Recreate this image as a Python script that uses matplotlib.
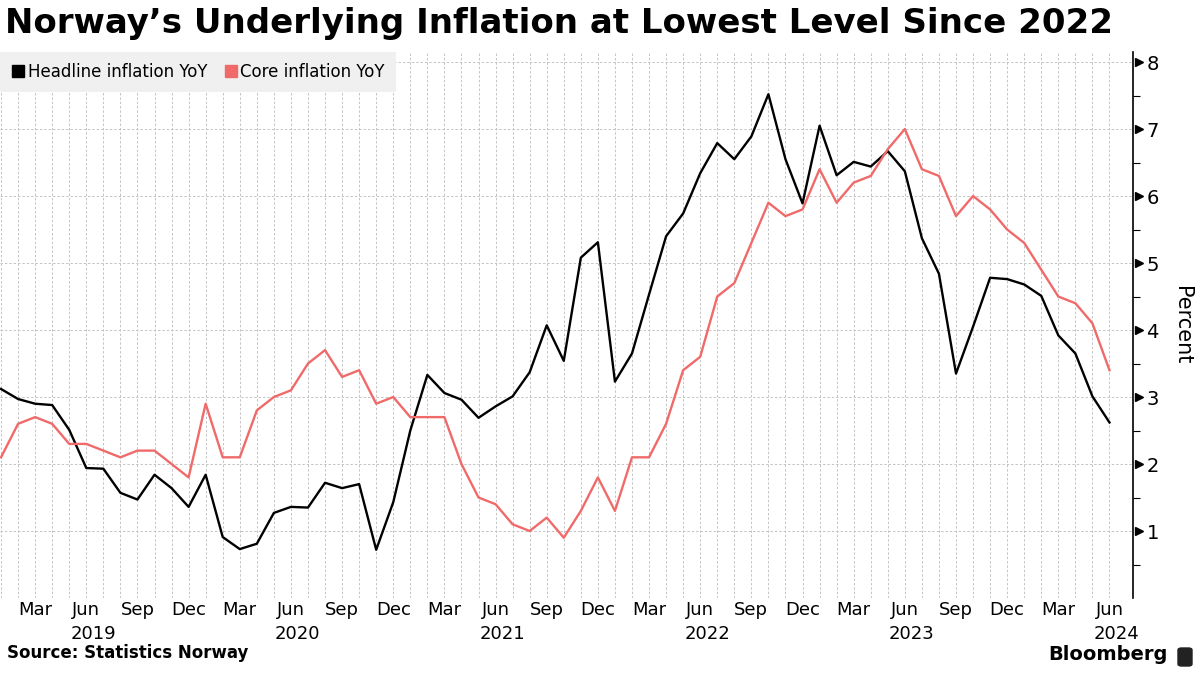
import matplotlib
matplotlib.use("Agg")
import matplotlib.pyplot as plt
import matplotlib.transforms as mtransforms
from matplotlib.patches import FancyBboxPatch
import numpy as np

# monthly, Jan 2019 .. Jun 2024
headline = [3.12, 2.97, 2.90, 2.88, 2.51, 1.94, 1.93, 1.57, 1.47, 1.84, 1.64, 1.36,
            1.84, 0.91, 0.73, 0.81, 1.27, 1.36, 1.35, 1.72, 1.64, 1.70, 0.72, 1.43,
            2.50, 3.33, 3.06, 2.96, 2.69, 2.86, 3.01, 3.37, 4.07, 3.54, 5.08, 5.31,
            3.23, 3.65, 4.53, 5.40, 5.74, 6.34, 6.79, 6.55, 6.89, 7.52, 6.55, 5.89,
            7.05, 6.31, 6.51, 6.44, 6.67, 6.37, 5.37, 4.84, 3.35, 4.05, 4.78, 4.76,
            4.68, 4.51, 3.92, 3.65, 3.01, 2.62]
core = [2.1, 2.6, 2.7, 2.6, 2.3, 2.3, 2.2, 2.1, 2.2, 2.2, 2.0, 1.8,
        2.9, 2.1, 2.1, 2.8, 3.0, 3.1, 3.5, 3.7, 3.3, 3.4, 2.9, 3.0,
        2.7, 2.7, 2.7, 2.0, 1.5, 1.4, 1.1, 1.0, 1.2, 0.9, 1.3, 1.8,
        1.3, 2.1, 2.1, 2.6, 3.4, 3.6, 4.5, 4.7, 5.3, 5.9, 5.7, 5.8,
        6.4, 5.9, 6.2, 6.3, 6.7, 7.0, 6.4, 6.3, 5.7, 6.0, 5.8, 5.5,
        5.3, 4.9, 4.5, 4.4, 4.1, 3.4]
month_names = ["Jan", "Feb", "Mar", "Apr", "May", "Jun",
               "Jul", "Aug", "Sep", "Oct", "Nov", "Dec"]
years = [2019, 2020, 2021, 2022, 2023, 2024]
y_ticks = [1, 2, 3, 4, 5, 6, 7, 8]

red = "#f06a6a"
grid_col = "#c4c4c4"
x = np.arange(len(headline))

fig = plt.figure(figsize=(12, 6.75), dpi=100)
ax = fig.add_axes([0.0, 1 - 598 / 675, 1132.5 / 1200, (598 - 52) / 675])

ax.plot(x, headline, color="black", lw=1.7, zorder=3)
ax.plot(x, core, color=red, lw=1.7, zorder=3)

ax.set_xlim(-0.06, 66.35)
ax.set_ylim(0, 8.15)

# gridlines every month and every percent point
ax.set_xticks(x, minor=True)
major = [i for i in x if i % 3 == 2]
ax.set_xticks(major)
ax.set_xticklabels([month_names[i % 12] for i in major])
ax.grid(True, which="both", axis="x", color=grid_col, ls=(0, (2.5, 2)), lw=0.7)
ax.grid(True, which="major", axis="y", color=grid_col, ls=(0, (2.5, 2)), lw=0.7)
ax.tick_params(axis="x", which="both", length=0, pad=2, labelsize=13)

trans = mtransforms.blended_transform_factory(ax.transData, ax.transAxes)
for k, yr in enumerate(years):
    ax.text(12 * k + 5.4, -0.05, str(yr), transform=trans, ha="center", va="top",
            fontsize=13)

ax.yaxis.tick_right()
ax.yaxis.set_label_position("right")
ax.set_yticks(y_ticks)
ax.set_yticks(np.arange(0.5, 8.1, 1), minor=True)
ax.tick_params(axis="y", which="major", length=0, pad=10, labelsize=14)
ax.tick_params(axis="y", which="minor", length=5, width=0.8, direction="out")
# triangular major ticks
ytrans = mtransforms.blended_transform_factory(ax.transAxes, ax.transData)
ax.plot([1.0055] * len(y_ticks), y_ticks, transform=ytrans, marker=">",
        ls="none", color="black", ms=5.5, clip_on=False, zorder=4)
ax.set_ylabel("Percent", fontsize=15, rotation=-90, labelpad=24)

for side in ["top", "left", "bottom"]:
    ax.spines[side].set_visible(False)
ax.spines["right"].set_linewidth(1.2)

# legend strip
handles = [plt.Line2D([], [], marker="s", ls="none", color="black", ms=9),
           plt.Line2D([], [], marker="s", ls="none", color=red, ms=9)]
leg = ax.legend(handles=handles, labels=["Headline inflation YoY", "Core inflation YoY"],
                loc="upper left", bbox_to_anchor=(0.0, 1.0), ncol=2, frameon=True,
                fontsize=12, handletextpad=0.1, columnspacing=1.0, borderpad=0.65,
                handlelength=0.9, borderaxespad=0)
leg.get_frame().set_facecolor("#f0f0f0")
leg.get_frame().set_edgecolor("none")
leg.get_frame().set_boxstyle("square", pad=0)
leg.get_frame().set_alpha(1)

fig.text(0.004, 0.965, "Norway\u2019s Underlying Inflation at Lowest Level Since 2022",
         fontsize=24.5, fontweight="bold", ha="left", va="center")
fig.text(0.006, 0.019, "Source: Statistics Norway", fontsize=12, fontweight="bold",
         ha="left", va="bottom")
fig.text(0.973, 0.016, "Bloomberg", fontsize=14, fontweight="bold",
         ha="right", va="bottom")
fig.patches.append(FancyBboxPatch((1178 / 1200, 9 / 675), 14 / 1200, 18 / 675,
                                  boxstyle="round,pad=0,rounding_size=0.003",
                                  transform=fig.transFigure, color="#222222"))

fig.savefig("out.png", dpi=100)
